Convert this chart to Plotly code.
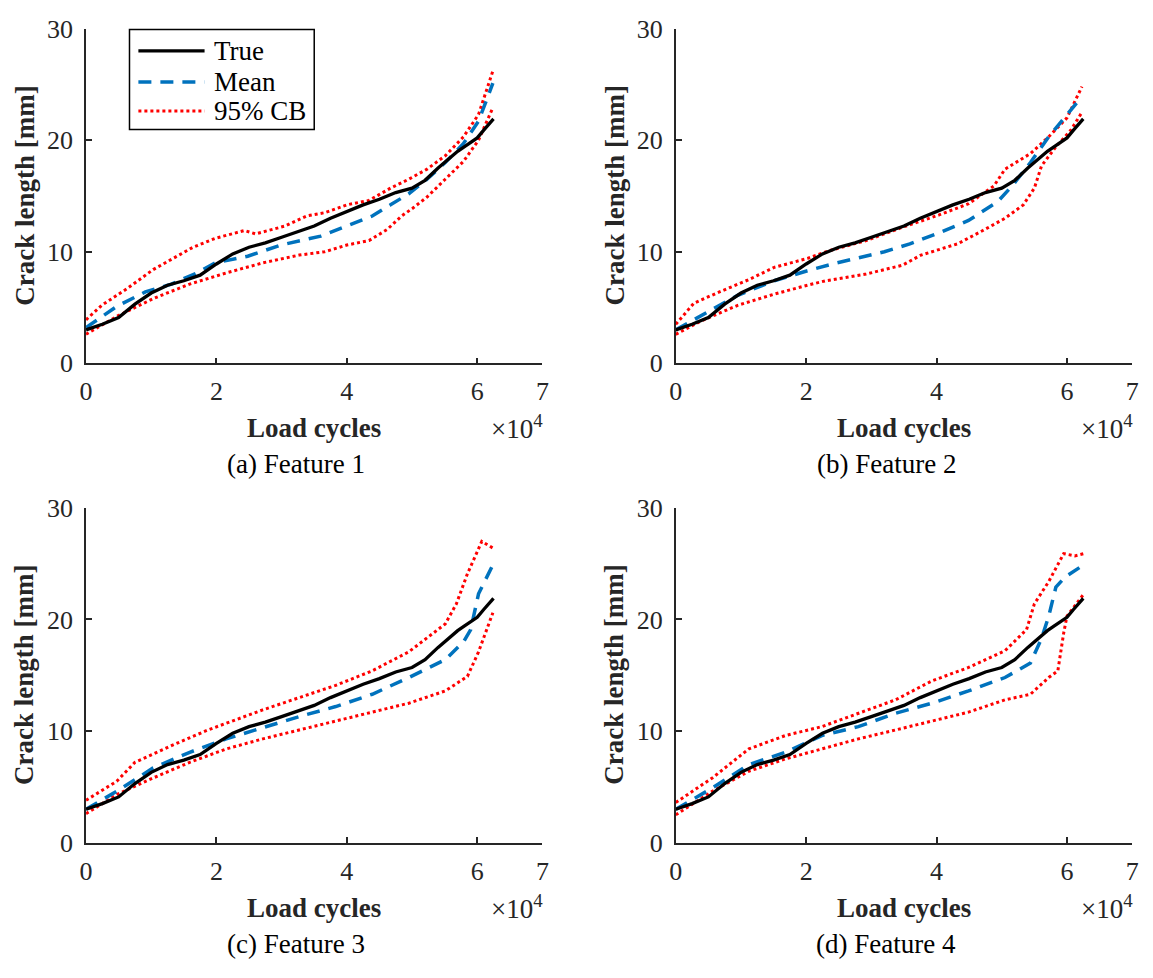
import plotly.graph_objects as go

# ---------------- data (x in load cycles, y in mm) ----------------
TRUE_X = [0, 2500, 5000, 7500, 10000, 12500, 15000, 17500, 20000, 22500, 25000, 27500, 30000,
          32500, 35000, 37500, 40000, 42500, 45000, 47500, 50000, 52000, 54000, 55000, 56000,
          57000, 58000, 59000, 60000, 61000, 62000, 62500]
TRUE_Y = [3.0, 3.5, 4.1, 5.3, 6.3, 7.0, 7.4, 7.9, 8.9, 9.8, 10.4, 10.8, 11.3,
          11.8, 12.3, 13.0, 13.6, 14.2, 14.7, 15.3, 15.7, 16.4, 17.5, 18.0, 18.5,
          19.0, 19.4, 19.8, 20.2, 20.9, 21.6, 21.9]

# Feature 1
A_MEAN_X = [0, 4700, 9100, 13100, 17000, 19800, 24800, 29900, 36000, 40000, 43900, 46700, 49500,
            52300, 55100, 57900, 60200, 62400]
A_MEAN_Y = [3.2, 5.1, 6.4, 7.1, 8.1, 9.0, 9.6, 10.6, 11.4, 12.3, 13.2, 14.2, 15.2,
            16.5, 18.0, 19.7, 21.7, 25.1]
A_UP_X = [0, 2400, 6300, 10300, 16400, 19800, 24300, 26000, 30500, 33800, 36600, 40000, 43400,
          46700, 49500, 52300, 55100, 57900, 60200, 62400]
A_UP_Y = [3.9, 5.2, 6.7, 8.4, 10.4, 11.2, 11.9, 11.6, 12.3, 13.2, 13.5, 14.2, 14.6,
          15.7, 16.5, 17.4, 18.6, 20.3, 22.3, 26.2]
A_LO_X = [0, 4700, 10300, 15900, 21500, 27100, 32700, 36600, 40000, 43400, 46200, 48400, 50100,
          52300, 55100, 57900, 60200, 62400]
A_LO_Y = [2.6, 4.2, 5.8, 7.1, 8.1, 9.0, 9.7, 10.0, 10.6, 11.0, 12.0, 13.2, 13.9,
          14.9, 16.5, 18.1, 20.0, 22.9]

# Feature 2
B_MEAN_X = [0, 3900, 9500, 15100, 20200, 24700, 32000, 35900, 40400, 44900, 49400, 51600, 54400,
            57200, 60000, 62300]
B_MEAN_Y = [3.0, 4.3, 6.1, 7.4, 8.3, 9.0, 10.0, 10.7, 11.7, 12.8, 14.5, 15.9, 18.0,
            20.3, 22.3, 23.9]
B_UP_X = [0, 2800, 6700, 11200, 15100, 20200, 23600, 29200, 34800, 40400, 44900, 48800, 50500,
          54400, 57200, 60000, 62300]
B_UP_Y = [3.5, 5.4, 6.4, 7.5, 8.6, 9.4, 10.1, 11.0, 12.2, 13.3, 14.3, 15.9, 17.4,
          18.8, 20.3, 22.0, 24.8]
B_LO_X = [0, 3900, 9500, 15100, 20200, 23000, 29200, 34800, 37600, 43200, 47100, 50500, 53300,
          55000, 56100, 58300, 60600, 62300]
B_LO_Y = [2.6, 3.8, 5.2, 6.2, 7.0, 7.4, 8.0, 8.8, 9.7, 10.7, 11.9, 13.0, 14.2,
          15.7, 17.7, 19.4, 20.9, 22.5]

# Feature 3
C_MEAN_X = [0, 4700, 10300, 15900, 21500, 27100, 32700, 38300, 43900, 49500, 55100, 57900, 59000,
            60200, 62400]
C_MEAN_Y = [3.0, 4.6, 6.7, 8.1, 9.3, 10.3, 11.3, 12.2, 13.3, 14.8, 16.4, 18.0, 19.1,
            22.3, 24.9]
C_UP_X = [0, 4700, 7500, 13100, 18700, 27100, 32700, 38300, 43900, 49500, 55100, 56800, 58500,
          60700, 62400]
C_UP_Y = [3.8, 5.5, 7.2, 8.7, 10.1, 11.9, 13.0, 14.1, 15.4, 17.1, 19.6, 21.4, 24.1,
          27.0, 26.4]
C_LO_X = [0, 4700, 10300, 15900, 21500, 27100, 32700, 38300, 43900, 49500, 55100, 58500, 60200,
          62400]
C_LO_Y = [2.6, 4.3, 5.8, 7.2, 8.4, 9.3, 10.1, 10.9, 11.7, 12.5, 13.6, 14.9, 17.1,
          20.6]

# Feature 4
D_MEAN_X = [0, 5600, 11200, 16800, 22400, 28000, 33700, 39300, 44900, 50500, 54400, 56100, 57200,
            58300, 59700, 62300]
D_MEAN_Y = [3.0, 4.9, 7.0, 8.1, 9.6, 10.4, 11.6, 12.5, 13.6, 14.8, 16.1, 18.3, 20.3,
            22.9, 23.8, 24.8]
D_UP_X = [0, 5600, 11200, 16800, 22400, 28000, 33700, 39300, 44900, 50500, 53800, 55000, 57200,
          59500, 61200, 62600]
D_UP_Y = [3.6, 5.8, 8.4, 9.6, 10.4, 11.6, 12.8, 14.5, 15.7, 17.2, 19.1, 21.4, 23.4,
          25.9, 25.7, 25.9]
D_LO_X = [0, 5600, 11200, 16800, 22400, 28000, 33700, 39300, 44900, 50500, 54400, 57200, 58600,
          59500, 60000, 62600]
D_LO_Y = [2.5, 4.6, 6.4, 7.5, 8.4, 9.3, 10.1, 10.9, 11.7, 12.8, 13.3, 14.8, 15.4,
          18.8, 20.3, 22.3]

CAPTIONS = ["(a) Feature 1", "(b) Feature 2", "(c) Feature 3", "(d) Feature 4"]
X_TICKS = [0, 20000, 40000, 60000, 70000]
X_TICK_TEXT = ["0", "2", "4", "6", "7"]
Y_TICKS = [0, 10, 20, 30]
SERIES_NAMES = ["True", "Mean", "95% CB"]
X_TITLE = "Load cycles"
Y_TITLE = "Crack length [mm]"
EXPONENT = "×10<sup>4</sup>"

PANEL_DATA = [
    (A_MEAN_X, A_MEAN_Y, A_UP_X, A_UP_Y, A_LO_X, A_LO_Y),
    (B_MEAN_X, B_MEAN_Y, B_UP_X, B_UP_Y, B_LO_X, B_LO_Y),
    (C_MEAN_X, C_MEAN_Y, C_UP_X, C_UP_Y, C_LO_X, C_LO_Y),
    (D_MEAN_X, D_MEAN_Y, D_UP_X, D_UP_Y, D_LO_X, D_LO_Y),
]

# ---------------- layout geometry (pixels) ----------------
W, H = 1153, 978
FONT = "Liberation Serif"
AX = "#262626"
# (left, right, top, bottom) of each plot area in pixels
PANELS = [(80, 542, 15, 360), (677, 1139, 15, 360), (80, 542, 509, 854), (677, 1139, 509, 854)]


def fx(p):
    return p / W


def fy(p):
    return 1 - p / H


BLACK = "#000000"
BLUE = "rgb(0,114,189)"
RED = "rgb(255,0,0)"
STYLES = [dict(color=BLACK, width=3.3), dict(color=BLUE, width=3.5, dash="13px,9px"),
          dict(color=RED, width=3, dash="3px,3px")]

fig = go.Figure()
annotations = []
shapes = []
layout_axes = {}

for i, ((mx, my, ux, uy, lx, ly), (l, r, t, b)) in enumerate(zip(PANEL_DATA, PANELS)):
    s = "" if i == 0 else str(i + 1)
    xa, ya = "x" + s, "y" + s
    for (xs, ys), name, st in [((ux, uy), SERIES_NAMES[2], STYLES[2]),
                               ((lx, ly), SERIES_NAMES[2], STYLES[2]),
                               ((mx, my), SERIES_NAMES[1], STYLES[1]),
                               ((TRUE_X, TRUE_Y), SERIES_NAMES[0], STYLES[0])]:
        fig.add_trace(go.Scatter(x=xs, y=ys, mode="lines", name=name, line=st,
                                 xaxis=xa, yaxis=ya, showlegend=False))

    common = dict(showline=True, linecolor=AX, linewidth=1.5, ticks="inside", ticklen=6,
                  tickwidth=1.5, tickcolor=AX, showgrid=False, zeroline=False,
                  tickfont=dict(family=FONT, size=26, color=AX), fixedrange=True)
    layout_axes["xaxis" + s] = dict(domain=[fx(l), fx(r)], range=[0, 70000], tickvals=X_TICKS,
                                    ticktext=X_TICK_TEXT, anchor=ya, ticklabelstandoff=4, **common)
    layout_axes["yaxis" + s] = dict(domain=[fy(b), fy(t)], range=[0, 30], tickvals=Y_TICKS,
                                    anchor=xa, ticklabelstandoff=6, **common)

    cx = (l + r) / 2
    annotations += [
        dict(text=Y_TITLE, x=fx(l - 62), y=fy((t + b) / 2), textangle=-90,
             xanchor="center", yanchor="middle",
             font=dict(family=FONT, size=27, color=AX, weight="bold")),
        dict(text=X_TITLE, x=fx(cx), y=fy(b + 67), xanchor="center", yanchor="middle",
             font=dict(family=FONT, size=27, color=AX, weight="bold")),
        dict(text=EXPONENT, x=fx(r + 3), y=fy(b + 66), xanchor="right", yanchor="middle",
             font=dict(family=FONT, size=27, color=AX)),
        dict(text=CAPTIONS[i], x=fx(l + 213), y=fy(b + 104), xanchor="center", yanchor="middle",
             font=dict(family=FONT, size=27, color="#000000")),
    ]

# ---- legend box in panel (a) ----
LEG_L, LEG_R, LEG_T, LEG_B = 124, 311, 16, 119
LEG_ROWS = [38, 70, 100]
shapes.append(dict(type="rect", xref="paper", yref="paper", x0=fx(LEG_L), x1=fx(LEG_R),
                   y0=fy(LEG_B), y1=fy(LEG_T), line=dict(color="#000000", width=1.5),
                   fillcolor="white", layer="above"))
for name, st, ry in zip(SERIES_NAMES, STYLES, LEG_ROWS):
    shapes.append(dict(type="line", xref="paper", yref="paper", x0=fx(133), x1=fx(200),
                       y0=fy(ry), y1=fy(ry), line=st, layer="above"))
    annotations.append(dict(text=name, x=fx(208), y=fy(ry), xanchor="left", yanchor="middle",
                            font=dict(family=FONT, size=27, color="#000000")))

for a in annotations:
    a.update(xref="paper", yref="paper", showarrow=False)

fig.update_layout(
    width=W, height=H, margin=dict(l=0, r=0, t=0, b=0),
    paper_bgcolor="white", plot_bgcolor="white",
    annotations=annotations, shapes=shapes, showlegend=False,
    **layout_axes,
)

fig.write_html("out.html")
